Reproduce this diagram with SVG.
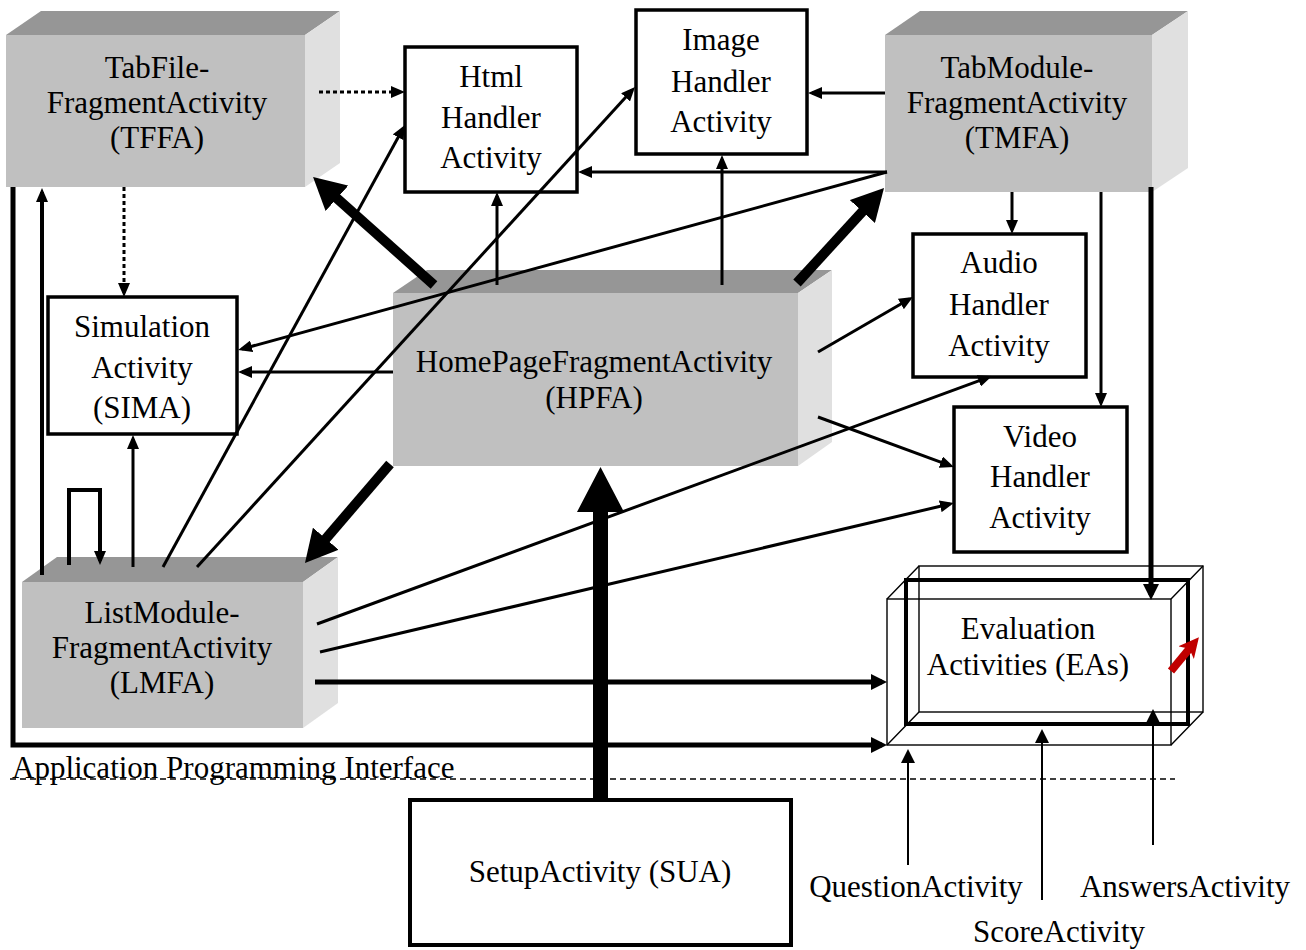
<svg xmlns="http://www.w3.org/2000/svg" width="1306" height="950" viewBox="0 0 1306 950">
<style>
text{font-family:"Liberation Serif","Times New Roman",serif;font-size:31px;fill:#000;text-anchor:middle}
.front{fill:#c0c0c0}
.top{fill:#969696}
.side{fill:#e0e0e0}
.box{fill:#fff;stroke:#000;stroke-width:3.5}
.c{fill:none;stroke:#000;stroke-width:3}
.dot{fill:none;stroke:#000;stroke-width:3;stroke-dasharray:4 3}
.th{fill:none;stroke:#000;stroke-width:5}
.big{fill:none;stroke:#000;stroke-width:10}
.thin{fill:none;stroke:#000;stroke-width:2}
.wire{fill:none;stroke:#000;stroke-width:1.4}
</style>
<defs>
<marker id="a" markerUnits="userSpaceOnUse" markerWidth="14" markerHeight="12" refX="10" refY="6" orient="auto"><path d="M0,0 L14,6 L0,12 z" fill="#000"/></marker>
<marker id="m" markerUnits="userSpaceOnUse" markerWidth="16" markerHeight="16" refX="11" refY="8" orient="auto"><path d="M0,0 L16,8 L0,16 z" fill="#000"/></marker>
<marker id="s" markerUnits="userSpaceOnUse" markerWidth="14" markerHeight="14" refX="12" refY="7" orient="auto"><path d="M0,0 L14,7 L0,14 z" fill="#000"/></marker>
<marker id="b" markerUnits="userSpaceOnUse" markerWidth="32" markerHeight="34" refX="20" refY="17" orient="auto"><path d="M0,0 L32,17 L0,34 z" fill="#000"/></marker>
<marker id="r" markerUnits="userSpaceOnUse" markerWidth="20" markerHeight="20" refX="6" refY="10" orient="auto"><path d="M0,0 L20,10 L0,20 L5,10 z" fill="#c00000"/></marker>
</defs>

<g id="TFFA">
<rect class="front" x="6" y="35" width="299" height="152"/>
<polygon class="top" points="6,35 41,11 340,11 305,35"/>
<polygon class="side" points="305,35 340,11 340,163 305,187"/>
<text x="157" y="78">TabFile-</text>
<text x="157" y="113">FragmentActivity</text>
<text x="157" y="148">(TFFA)</text>
</g>

<g id="HPFA">
<rect class="front" x="393" y="293" width="405" height="173"/>
<polygon class="top" points="393,293 427,270 832,270 798,293"/>
<polygon class="side" points="798,293 832,270 832,442 798,466"/>
<text x="594" y="372">HomePageFragmentActivity</text>
<text x="594" y="408">(HPFA)</text>
</g>

<g id="TMFA">
<rect class="front" x="885" y="35" width="267" height="157"/>
<polygon class="top" points="885,35 920,11 1188,11 1152,35"/>
<polygon class="side" points="1152,35 1188,11 1188,168 1152,192"/>
<text x="1017" y="78">TabModule-</text>
<text x="1017" y="113">FragmentActivity</text>
<text x="1017" y="148">(TMFA)</text>
</g>

<g id="LMFA">
<rect class="front" x="22" y="582" width="281" height="146"/>
<polygon class="top" points="22,582 57,557 338,557 303,582"/>
<polygon class="side" points="303,582 338,557 338,703 303,728"/>
<text x="162" y="623">ListModule-</text>
<text x="162" y="658">FragmentActivity</text>
<text x="162" y="693">(LMFA)</text>
</g>

<g id="HTML">
<rect class="box" x="405" y="47" width="172" height="145"/>
<text x="491" y="87">Html</text>
<text x="491" y="128">Handler</text>
<text x="491" y="168">Activity</text>
</g>

<g id="IMAGE">
<rect class="box" x="636" y="10" width="171" height="144"/>
<text x="721" y="50">Image</text>
<text x="721" y="92">Handler</text>
<text x="721" y="132">Activity</text>
</g>

<g id="AUDIO">
<rect class="box" x="913" y="234" width="173" height="143"/>
<text x="999" y="273">Audio</text>
<text x="999" y="315">Handler</text>
<text x="999" y="356">Activity</text>
</g>

<g id="VIDEO">
<rect class="box" x="954" y="407" width="173" height="145"/>
<text x="1040" y="447">Video</text>
<text x="1040" y="487">Handler</text>
<text x="1040" y="528">Activity</text>
</g>

<g id="SIMA">
<rect class="box" x="48" y="297" width="189" height="137"/>
<text x="142" y="337">Simulation</text>
<text x="142" y="378">Activity</text>
<text x="142" y="418">(SIMA)</text>
</g>

<g id="SUA">
<rect class="box" x="410" y="800" width="381" height="145" style="stroke-width:4"/>
<text x="600" y="882">SetupActivity (SUA)</text>
</g>

<g id="EA">
<rect class="wire" x="887" y="599" width="284" height="146"/>
<rect class="wire" x="919" y="566" width="284" height="146"/>
<path class="wire" d="M887,599 L919,566 M1171,599 L1203,566 M887,745 L919,712 M1171,745 L1203,712"/>
<rect x="906" y="580" width="282" height="144" fill="none" stroke="#000" stroke-width="4"/>
<text x="1028" y="639">Evaluation</text>
<text x="1028" y="675">Activities (EAs)</text>
<line x1="1171" y1="671" x2="1190" y2="648" stroke="#c00000" stroke-width="8" marker-end="url(#r)"/>
</g>

<g id="API">
<line x1="10" y1="779" x2="1175" y2="779" stroke="#000" stroke-width="1.5" stroke-dasharray="6 4"/>
<text x="12" y="778" style="text-anchor:start">Application Programming Interface</text>
</g>

<g id="LABELS">
<text x="916" y="897">QuestionActivity</text>
<text x="1059" y="942">ScoreActivity</text>
<text x="1185" y="897">AnswersActivity</text>
</g>

<g id="connectors">
<line class="c" x1="885" y1="93" x2="812" y2="93" marker-end="url(#a)"/>
<line class="c" x1="887" y1="172" x2="582" y2="172" marker-end="url(#a)"/>
<line class="c" x1="887" y1="172" x2="242" y2="349" marker-end="url(#a)"/>
<line class="c" x1="497" y1="285" x2="497" y2="196" marker-end="url(#a)"/>
<line class="c" x1="722" y1="285" x2="722" y2="159" marker-end="url(#a)"/>
<line class="c" x1="393" y1="372" x2="242" y2="372" marker-end="url(#a)"/>
<line class="c" x1="163" y1="567" x2="403" y2="128.5" marker-end="url(#a)"/>
<line class="c" x1="197" y1="567" x2="632.3" y2="90" marker-end="url(#a)"/>
<line class="c" x1="133" y1="567" x2="133" y2="439" marker-end="url(#a)"/>
<path class="c" d="M69,565 V490 H100 V561" style="stroke-width:4" marker-end="url(#a)"/>
<line class="c" x1="42" y1="575" x2="42" y2="192" style="stroke-width:4" marker-end="url(#a)"/>
<line class="c" x1="317" y1="624" x2="988.2" y2="377.4" marker-end="url(#a)"/>
<line class="c" x1="320" y1="652" x2="950" y2="504" marker-end="url(#a)"/>
<line class="c" x1="818" y1="352" x2="909.5" y2="299" marker-end="url(#a)"/>
<line class="c" x1="818" y1="417" x2="950.2" y2="465.6" marker-end="url(#a)"/>
<line class="c" x1="1012" y1="192" x2="1012" y2="230" marker-end="url(#a)"/>
<line class="c" x1="1101" y1="192" x2="1101" y2="403" marker-end="url(#a)"/>
<line class="dot" x1="319" y1="92" x2="401" y2="92" marker-end="url(#a)"/>
<line class="dot" x1="124" y1="187" x2="124" y2="293" marker-end="url(#a)"/>
<path class="th" d="M13,187 V745 H882" marker-end="url(#m)"/>
<line class="th" x1="315" y1="682" x2="882" y2="682" marker-end="url(#m)"/>
<line class="th" x1="1151" y1="187" x2="1151" y2="595" marker-end="url(#m)"/>
<line class="thin" x1="908" y1="865" x2="908" y2="751" marker-end="url(#s)"/>
<line class="thin" x1="1042" y1="900" x2="1042" y2="731" marker-end="url(#s)"/>
<line class="thin" x1="1153" y1="845" x2="1153" y2="711" marker-end="url(#s)"/>
<line class="big" x1="434" y1="285" x2="322" y2="185" marker-end="url(#b)"/>
<line class="big" x1="797" y1="283" x2="875.9" y2="196.8" marker-end="url(#b)"/>
<line class="big" x1="390" y1="464" x2="312.8" y2="553.9" marker-end="url(#b)"/>
<path d="M593,800 V512 H577 L600.5,467 L624,512 H608 V800 Z" fill="#000"/>
</g>
</svg>
